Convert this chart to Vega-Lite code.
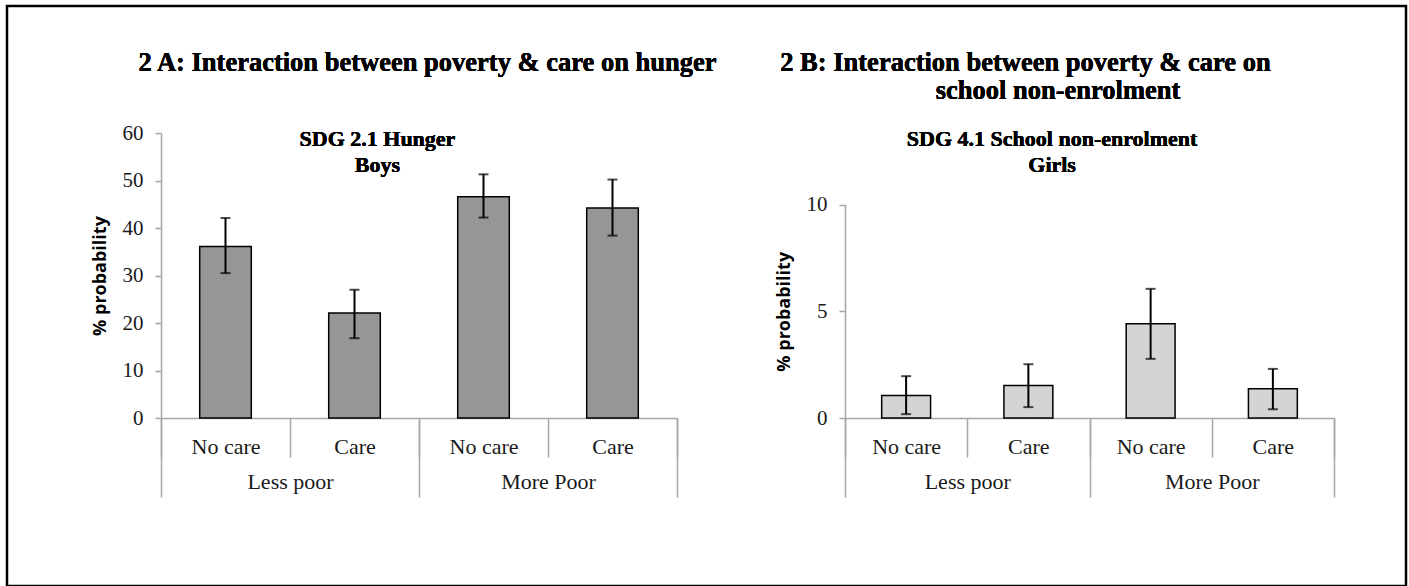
{
  "$schema": "https://vega.github.io/schema/vega-lite/v6.json",
  "width": 1399,
  "height": 580,
  "autosize": {"type": "none"},
  "padding": {"left": 7, "top": 6, "right": 3, "bottom": 0},
  "background": "white",
  "config": {
    "view": {"stroke": "black", "strokeWidth": 2.5},
    "axis": {"grid": false, "domainColor": "#a6a6a6", "domainWidth": 1.5, "tickColor": "#a6a6a6", "tickWidth": 1.5, "labelColor": "#1a1a1a", "labelFont": "Liberation Serif", "labelFontWeight": "normal"},
    "text": {"font": "Liberation Serif", "fontWeight": "bold", "color": "black", "align": "center", "baseline": "alphabetic"}
  },
  "datasets": {
    "hunger": [
      {"poverty": "Less poor", "care": "No care", "value": 36.1, "lo": 30.5, "hi": 42.1},
      {"poverty": "Less poor", "care": "Care", "value": 22.1, "lo": 16.8, "hi": 27.0},
      {"poverty": "More Poor", "care": "No care", "value": 46.6, "lo": 42.2, "hi": 51.3},
      {"poverty": "More Poor", "care": "Care", "value": 44.2, "lo": 38.4, "hi": 50.2}
    ],
    "school": [
      {"poverty": "Less poor", "care": "No care", "value": 1.05, "lo": 0.18, "hi": 1.96},
      {"poverty": "Less poor", "care": "Care", "value": 1.52, "lo": 0.51, "hi": 2.52},
      {"poverty": "More Poor", "care": "No care", "value": 4.41, "lo": 2.77, "hi": 6.05},
      {"poverty": "More Poor", "care": "Care", "value": 1.37, "lo": 0.41, "hi": 2.30}
    ]
  },
  "layer": [
    {
      "layer": [
        {
          "data": {"name": "hunger"},
          "transform": [{"calculate": "datum.poverty + '|' + datum.care", "as": "key"}],
          "encoding": {
            "x": {"field": "key", "type": "nominal", "sort": null,
              "scale": {"domain": ["Less poor|No care", "Less poor|Care", "More Poor|No care", "More Poor|Care"], "range": [154, 670], "paddingInner": 0, "paddingOuter": 0},
              "axis": {"orient": "bottom", "offset": -168, "title": null, "labelExpr": "split(datum.label, '|')[1]", "tickBand": "extent", "tickSize": 39, "labelFontSize": 22, "labelBaseline": "alphabetic", "labelPadding": -4, "labelAngle": 0}},
            "y": {"field": "value", "type": "quantitative",
              "scale": {"domain": [0, 60], "range": [412, 127], "nice": false},
              "axis": {"orient": "left", "offset": -154, "values": [0, 10, 20, 30, 40, 50, 60], "format": "d", "tickSize": 6, "labelFontSize": 21, "labelPadding": 12, "labelFlush": false, "labelOverlap": false, "title": "% probability", "titleFont": "Open Sans", "titleFontWeight": "bold", "titleFontSize": 18, "titleColor": "black", "titlePadding": 13}}
          },
          "layer": [
            {"mark": {"type": "bar", "width": {"band": 0.4}, "fill": "#969696", "stroke": "black", "strokeWidth": 1.5}},
            {"mark": {"type": "rule", "color": "black", "strokeWidth": 2}, "encoding": {"y": {"field": "lo", "type": "quantitative"}, "y2": {"field": "hi"}}},
            {"mark": {"type": "tick", "color": "black", "size": 10, "thickness": 2}, "encoding": {"y": {"field": "lo", "type": "quantitative"}}},
            {"mark": {"type": "tick", "color": "black", "size": 10, "thickness": 2}, "encoding": {"y": {"field": "hi", "type": "quantitative"}}}
          ]
        },
        {
          "data": {"name": "hunger"},
          "layer": [
            {"mark": {"type": "point", "opacity": 0},
             "encoding": {
               "x": {"field": "poverty", "type": "nominal",
                 "scale": {"domain": ["Less poor", "More Poor"], "range": [154, 670], "paddingInner": 0, "paddingOuter": 0},
                 "axis": {"orient": "bottom", "offset": -168, "title": null, "domain": false, "tickBand": "extent", "tickSize": 79, "labelFontSize": 22, "labelBaseline": "alphabetic", "labelPadding": -9, "labelAngle": 0}},
               "y": {"field": "value", "type": "quantitative"}
             }},
            {"mark": {"type": "text", "fontSize": 26.5},
             "encoding": {"x": {"datum": "More Poor", "bandPosition": 0.033}, "y": {"datum": 73.05}, "text": {"value": "2 A: Interaction between poverty & care on hunger"}}},
            {"mark": {"type": "text", "fontSize": 22, "lineHeight": 26},
             "encoding": {"x": {"datum": "Less poor", "bandPosition": 0.839}, "y": {"datum": 57.33}, "text": {"value": ["SDG 2.1 Hunger", "Boys"]}}}
          ]
        }
      ],
      "resolve": {"scale": {"x": "independent"}, "axis": {"x": "independent"}}
    },
    {
      "layer": [
        {
          "data": {"name": "school"},
          "transform": [{"calculate": "datum.poverty + '|' + datum.care", "as": "key"}],
          "encoding": {
            "x": {"field": "key", "type": "nominal", "sort": null,
              "scale": {"domain": ["Less poor|No care", "Less poor|Care", "More Poor|No care", "More Poor|Care"], "range": [838, 1327], "paddingInner": 0, "paddingOuter": 0},
              "axis": {"orient": "bottom", "offset": -168, "title": null, "labelExpr": "split(datum.label, '|')[1]", "tickBand": "extent", "tickSize": 39, "labelFontSize": 22, "labelBaseline": "alphabetic", "labelPadding": -4, "labelAngle": 0}},
            "y": {"field": "value", "type": "quantitative",
              "scale": {"domain": [0, 10], "range": [412, 198.5], "nice": false},
              "axis": {"orient": "left", "offset": -838, "values": [0, 5, 10], "format": "d", "tickSize": 6, "labelFontSize": 21, "labelPadding": 12, "labelFlush": false, "labelOverlap": false, "title": "% probability", "titleFont": "Open Sans", "titleFontWeight": "bold", "titleFontSize": 18, "titleColor": "black", "titlePadding": 13}}
          },
          "layer": [
            {"mark": {"type": "bar", "width": {"band": 0.4}, "fill": "#d4d4d4", "stroke": "black", "strokeWidth": 1.5}},
            {"mark": {"type": "rule", "color": "black", "strokeWidth": 2}, "encoding": {"y": {"field": "lo", "type": "quantitative"}, "y2": {"field": "hi"}}},
            {"mark": {"type": "tick", "color": "black", "size": 10, "thickness": 2}, "encoding": {"y": {"field": "lo", "type": "quantitative"}}},
            {"mark": {"type": "tick", "color": "black", "size": 10, "thickness": 2}, "encoding": {"y": {"field": "hi", "type": "quantitative"}}}
          ]
        },
        {
          "data": {"name": "school"},
          "layer": [
            {"mark": {"type": "point", "opacity": 0},
             "encoding": {
               "x": {"field": "poverty", "type": "nominal",
                 "scale": {"domain": ["Less poor", "More Poor"], "range": [838, 1327], "paddingInner": 0, "paddingOuter": 0},
                 "axis": {"orient": "bottom", "offset": -168, "title": null, "domain": false, "tickBand": "extent", "tickSize": 79, "labelFontSize": 22, "labelBaseline": "alphabetic", "labelPadding": -9, "labelAngle": 0}},
               "y": {"field": "value", "type": "quantitative"}
             }},
            {"mark": {"type": "text", "fontSize": 26.5},
             "encoding": {"x": {"datum": "Less poor", "bandPosition": 0.738}, "y": {"datum": 16.27}, "text": {"value": "2 B: Interaction between poverty & care on"}}},
            {"mark": {"type": "text", "fontSize": 26.5},
             "encoding": {"x": {"datum": "Less poor", "bandPosition": 0.871}, "y": {"datum": 14.93}, "text": {"value": "school non-enrolment"}}},
            {"mark": {"type": "text", "fontSize": 22, "lineHeight": 26},
             "encoding": {"x": {"datum": "Less poor", "bandPosition": 0.847}, "y": {"datum": 12.75}, "text": {"value": ["SDG 4.1 School non-enrolment", "Girls"]}}}
          ]
        }
      ],
      "resolve": {"scale": {"x": "independent"}, "axis": {"x": "independent"}}
    }
  ],
  "resolve": {"scale": {"x": "independent", "y": "independent"}, "axis": {"x": "independent", "y": "independent"}}
}
